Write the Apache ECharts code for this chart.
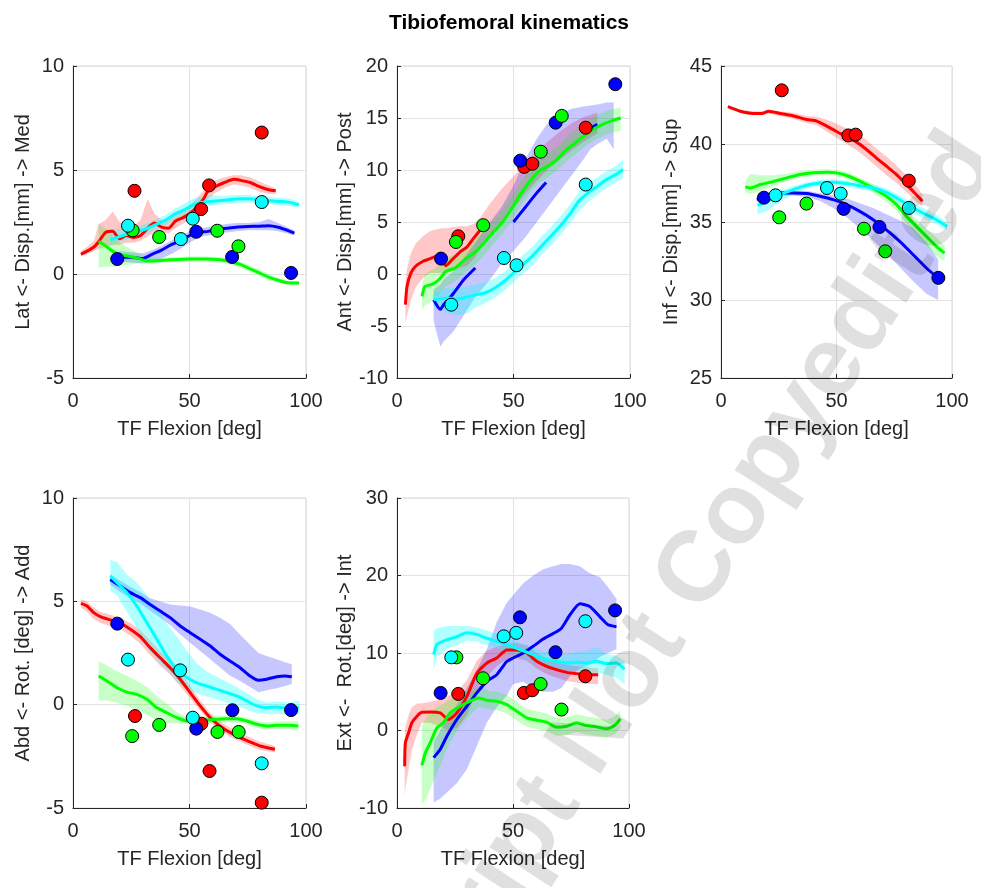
<!DOCTYPE html>
<html>
<head>
<meta charset="utf-8">
<script src="https://cdn.jsdelivr.net/npm/echarts@6/dist/echarts.min.js"></script>
<style>
  html, body { margin: 0; padding: 0; background: #fff; }
  #chart { width: 981px; height: 888px; }
</style>
</head>
<body>
<div id="chart"></div>
<script>
// rows are [flexion, mean, band low, band high]; null mean = line not visible there
var latRed = [[3.4,0.95,0.85,1.1],[6,1.1,0.95,1.3],[9,1.3,1.1,1.6],[11,1.55,1.2,2.4],[14,2.0,1.3,2.6],[17,2.05,1.4,3.0],[20,1.7,1.4,2.5],[23,1.85,1.5,2.4],[26,1.75,1.5,2.3],[29,1.85,1.6,2.6],[32,2.2,1.8,3.6],[35,2.45,2.0,2.9],[38,2.25,2.0,2.6],[41,2.2,1.95,2.6],[44,2.55,2.2,2.9],[47,2.7,2.4,3.0],[50,2.9,2.6,3.3],[53,3.2,2.8,3.6],[56,3.6,3.2,4.0],[58,4.0,3.6,4.3],[61,4.2,3.9,4.5],[65,4.4,4.15,4.65],[69,4.55,4.3,4.75],[72,4.5,4.25,4.75],[76,4.4,4.15,4.65],[80,4.2,3.95,4.45],[84,4.05,3.85,4.25],[87,4.0,3.85,4.1]];
var latCyan = [[16,1.65,1.4,2.2],[20,1.8,1.55,2.15],[24,1.95,1.7,2.2],[28,2.05,1.8,2.3],[32,2.2,1.95,2.45],[36,2.4,2.15,2.65],[40,2.6,2.35,2.85],[44,2.9,2.65,3.15],[48,3.1,2.85,3.4],[52,3.35,3.1,3.65],[56,3.45,3.2,3.75],[60,3.5,3.3,3.8],[65,3.55,3.35,3.75],[70,3.6,3.4,3.8],[75,3.62,3.45,3.8],[80,3.58,3.4,3.75],[85,3.52,3.35,3.7],[90,3.48,3.3,3.65],[94,3.42,3.25,3.6],[97,3.32,3.2,3.45]];
var latBlue = [[20,0.8,0.6,1.1],[25,0.8,0.55,1.05],[30,0.75,0.5,1.0],[34,0.95,0.6,1.15],[38,1.15,0.75,1.35],[42,1.4,0.95,1.6],[46,1.6,1.2,1.8],[50,1.85,1.5,2.05],[54,2.0,1.75,2.2],[58,2.05,1.85,2.25],[62,2.15,1.95,2.35],[66,2.2,2.0,2.4],[70,2.25,2.05,2.45],[75,2.28,2.1,2.45],[80,2.3,2.1,2.5],[84,2.32,2.1,2.65],[88,2.25,2.05,2.45],[92,2.1,1.95,2.25],[95,1.97,1.85,2.1]];
var latGreen = [[11,1.57,0.3,2.4],[14,1.35,0.35,2.2],[17,1.1,0.35,1.8],[20,0.93,0.4,1.5],[24,0.85,0.45,1.25],[28,0.75,0.5,1.0],[32,0.62,0.5,0.8],[36,0.64,0.52,0.78],[42,0.68,0.56,0.8],[50,0.72,0.6,0.84],[57,0.72,0.6,0.84],[63,0.68,0.55,0.82],[68,0.58,0.43,0.73],[72,0.45,0.3,0.6],[76,0.25,0.1,0.4],[80,0.05,-0.1,0.2],[84,-0.15,-0.3,0.0],[88,-0.3,-0.42,-0.18],[92,-0.42,-0.52,-0.32],[97,-0.43,-0.5,-0.35]];
var latRedPts = [[26.4,4.0],[55,3.12],[58.4,4.26],[81,6.8]];
var latBluePts = [[19,0.72],[52.9,2.03],[68.3,0.82],[93.6,0.05]];
var latGreenPts = [[25.6,2.1],[37,1.78],[61.9,2.08],[71,1.33]];
var latCyanPts = [[23.6,2.32],[46.3,1.68],[51.4,2.66],[81,3.46]];

var antRed = [[3.6,-2.95,-4.7,-1.0],[4.3,-1.2,-4.0,0.5],[6,0.1,-2.5,2.0],[8,0.74,-1.3,2.9],[11,1.2,-0.4,3.6],[14,1.45,0.1,4.1],[17,1.7,0.1,4.3],[19,1.4,0.1,4.4],[21,0.8,0.1,4.4],[24,1.45,0.3,4.5],[27,2.1,0.6,4.6],[30,2.6,0.8,4.6],[33,3.47,1.5,4.8],[36,4.3,2.5,5.5],[40,null,3.8,6.8],[45,null,5.0,8.2],[50,null,6.3,9.4],[55,null,7.7,10.7],[60,null,9.0,11.8],[65,null,10.1,12.8],[70,null,11.0,13.7],[75,null,11.9,14.5],[80,null,12.7,15.1],[86,null,13.5,15.5]];
var antBlue = [[15.7,-2.47,-4.5,-1.5],[18.6,-3.4,-7.0,-1.0],[20,-2.95,-6.5,-0.5],[24.3,-1.85,-5.5,0.3],[28.6,-0.55,-4.0,1.5],[33.6,0.58,-2.2,3.0],[40,null,-0.5,5.0],[45,null,1.0,6.5],[50,5.0,2.2,8.5],[55,6.4,3.5,11.0],[60,7.8,5.0,13.0],[64,8.8,6.2,14.3],[70,null,8.0,15.5],[75,null,9.5,15.9],[80,null,11.0,16.1],[83,14.0,12.0,16.2],[86,14.4,12.5,16.3],[90,null,13.0,16.5],[93,null,12.0,16.5]];
var antGreen = [[10.7,-2.15,-3.5,-1.0],[12,-1.2,-3.0,0.0],[15,-1.0,-2.6,0.4],[18,-0.55,-2.0,0.8],[21,0.26,-1.2,1.5],[25,0.58,-0.7,1.9],[29,1.38,0.1,2.6],[33,2.0,0.8,3.2],[37,2.9,1.7,4.1],[41,3.95,2.8,5.1],[45,4.9,3.8,6.1],[49,6.2,5.0,7.4],[53,7.65,6.5,8.8],[57,8.9,7.8,10.0],[61,9.9,8.8,11.0],[65,10.4,9.3,11.6],[69,11.1,10.0,12.3],[73,12.0,10.9,13.2],[77,12.7,11.6,13.9],[81,13.4,12.3,14.6],[85,14.0,12.9,15.2],[89,14.45,13.3,15.6],[93,14.8,13.6,15.9],[96,15.0,13.8,16.0]];
var antCyan = [[15.7,-2.47,-3.2,-1.8],[18,-2.4,-3.3,-1.6],[22,-2.3,-3.8,-1.3],[26,-2.4,-4.0,-1.4],[30,-2.2,-3.8,-1.2],[34,-2.0,-3.2,-1.0],[38,-1.8,-2.8,-0.8],[42,-1.35,-2.3,-0.4],[46,-0.7,-1.6,0.2],[50,0.1,-0.8,1.0],[54,0.9,0.0,1.8],[58,1.7,0.8,2.6],[62,2.67,1.8,3.6],[66,3.63,2.7,4.5],[70,4.6,3.7,5.5],[74,5.7,4.8,6.6],[78,7.0,6.0,7.9],[82,7.8,6.9,8.7],[86,8.45,7.6,9.3],[90,9.1,8.3,9.9],[94,9.57,8.8,10.4],[97,10.05,9.2,11.0]];
var antRedPts = [[26.3,3.63],[54.6,10.3],[58.1,10.6],[81,14.07]];
var antBluePts = [[18.9,1.48],[52.9,10.9],[68.1,14.55],[93.7,18.25]];
var antGreenPts = [[25.3,3.08],[37,4.69],[61.7,11.76],[70.7,15.2]];
var antCyanPts = [[23.3,-2.95],[45.9,1.54],[51.3,0.84],[81,8.6]];

var infRed = [[3,42.39,42.3,42.5],[8.3,42.1,42.0,42.2],[14,41.96,41.85,42.1],[17.7,41.96,41.85,42.1],[20.6,42.1,41.95,42.2],[25.6,41.96,41.8,42.1],[31.4,41.8,41.6,42.0],[37,41.57,41.35,41.8],[41.4,41.47,41.2,41.75],[45.8,41.15,40.8,41.55],[50,40.8,40.4,41.3],[54.4,40.46,40.0,41.0],[58.7,40.12,39.6,40.7],[63,39.65,39.1,40.25],[67.3,39.1,38.55,39.7],[71.6,38.58,38.0,39.2],[76,38.04,37.5,38.6],[80.3,37.4,36.9,38.0],[83.9,36.86,36.4,37.4],[87.2,36.33,36.0,36.8]];
var infBlue = [[15.5,36.43,36.3,36.6],[19.9,36.65,36.5,36.8],[25.6,36.86,36.7,37.0],[31.4,36.86,36.7,37.0],[37.1,36.82,36.6,37.0],[42.9,36.65,36.35,36.85],[48.6,36.43,35.9,36.7],[54.4,36.11,35.3,36.5],[60.1,35.68,34.6,36.2],[65.9,35.15,33.8,35.9],[71.6,34.5,33.0,35.5],[77.4,33.76,32.1,35.1],[83.2,32.9,31.2,34.6],[88.9,32.05,30.4,33.7],[94,31.4,30.0,32.6]];
var infGreen = [[10.5,37.25,36.9,37.6],[12.7,37.18,36.8,38.1],[17,37.4,37.0,38.0],[22.7,37.6,37.3,38.0],[28.5,37.83,37.6,38.1],[34.2,38.04,37.85,38.3],[40,38.15,37.95,38.35],[45.8,38.19,38.0,38.4],[50,38.15,37.95,38.35],[54.4,37.98,37.75,38.2],[58.7,37.72,37.5,37.95],[63,37.4,37.15,37.65],[67.3,37.03,36.75,37.3],[71.6,36.65,36.3,36.95],[76,36.11,35.7,36.45],[80.3,35.36,34.9,35.8],[84.6,34.72,34.2,35.2],[88.9,34.08,33.5,34.6],[93.2,33.44,32.8,34.0],[96.8,33.0,32.5,33.5]];
var infCyan = [[15.8,36.07,35.5,36.4],[19.9,36.33,35.7,36.6],[25.6,36.76,36.3,37.0],[31.4,37.08,36.8,37.3],[37.1,37.36,37.15,37.55],[42.9,37.5,37.3,37.7],[48.6,37.55,37.35,37.75],[54.4,37.46,37.25,37.65],[60.1,37.33,37.1,37.55],[65.9,37.18,36.95,37.4],[71.6,36.9,36.65,37.15],[77.4,36.43,36.15,36.7],[83.2,35.9,35.6,36.2],[88.9,35.47,35.15,35.8],[93.2,35.15,34.85,35.45],[97.8,34.72,34.5,35.0]];
var infRedPts = [[26.3,43.44],[55.1,40.55],[58.3,40.6],[81.3,37.65]];
var infBluePts = [[18.6,36.56],[53.1,35.84],[68.6,34.68],[94.1,31.42]];
var infGreenPts = [[25.2,35.3],[37,36.18],[61.9,34.57],[71.1,33.12]];
var infCyanPts = [[23.6,36.71],[45.9,37.18],[51.8,36.82],[81.3,35.9]];

var abdRed = [[3.4,4.9,4.7,5.1],[6,4.77,4.5,5.0],[8.9,4.45,4.15,4.7],[11.7,4.26,3.95,4.5],[16,4.1,3.8,4.35],[20.3,3.94,3.65,4.2],[24.6,3.65,3.35,3.95],[28.9,3.29,2.95,3.6],[33.1,2.76,2.4,3.1],[37.4,2.27,1.9,2.6],[41.7,1.79,1.45,2.15],[46,1.23,0.9,1.6],[50.3,0.58,0.3,0.9],[54.6,-0.06,-0.3,0.2],[58.9,-0.63,-0.85,-0.4],[63.1,-1.03,-1.25,-0.8],[67.4,-1.35,-1.55,-1.12],[71.7,-1.6,-1.8,-1.38],[76,-1.8,-2.0,-1.58],[80.3,-2.0,-2.2,-1.8],[86.7,-2.16,-2.3,-2.0]];
var abdBlue = [[16,6.06,5.8,6.3],[20.3,5.74,5.45,6.0],[24.6,5.42,5.15,5.7],[28.9,5.18,4.9,5.45],[33.1,4.85,4.55,5.15],[37.4,4.53,4.2,5.0],[41.7,4.21,3.85,4.85],[46,3.81,3.4,4.8],[50.3,3.48,3.0,4.75],[54.6,3.16,2.6,4.6],[58.9,2.84,2.2,4.45],[63.1,2.44,1.8,4.2],[67.4,2.11,1.4,3.9],[71.7,1.79,1.15,3.4],[76,1.39,0.85,2.9],[79.6,1.18,0.6,2.5],[83.1,1.23,0.7,2.35],[87.4,1.35,0.8,2.2],[91,1.39,0.9,2.05],[93.9,1.35,1.0,1.95]];
var abdGreen = [[11,1.39,0.2,2.1],[14.6,1.15,0.2,1.9],[18.9,0.82,0.1,1.6],[23.1,0.61,-0.05,1.4],[27.4,0.5,-0.25,1.15],[31.7,0.26,-0.5,0.85],[36,-0.15,-0.75,0.4],[40.3,-0.39,-0.9,0.05],[44.6,-0.63,-0.9,-0.35],[48.9,-0.79,-0.95,-0.62],[53.1,-0.79,-0.95,-0.63],[57.4,-0.74,-0.9,-0.58],[61.7,-0.71,-0.87,-0.55],[66,-0.68,-0.85,-0.52],[70.3,-0.68,-0.85,-0.52],[74.6,-0.79,-0.95,-0.63],[78.9,-0.95,-1.12,-0.78],[83.1,-1.03,-1.2,-0.86],[87.4,-1.0,-1.18,-0.82],[93.1,-1.0,-1.2,-0.8],[96.7,-1.03,-1.3,-0.8]];
var abdCyan = [[16,6.23,5.5,7.0],[18.9,5.9,5.3,6.9],[23.1,5.42,4.5,6.3],[27.4,4.77,3.7,5.9],[31.7,3.97,2.8,5.3],[36,3.16,2.2,4.7],[40.3,2.35,1.7,3.9],[44.6,1.71,1.1,3.3],[48.9,1.31,0.75,2.6],[53.1,1.06,0.55,2.0],[57.4,0.9,0.4,1.6],[61.7,0.74,0.25,1.35],[66,0.58,0.1,1.1],[70.3,0.42,-0.05,0.85],[74.6,0.18,-0.25,0.55],[78.9,-0.06,-0.4,0.25],[83.1,-0.15,-0.45,0.1],[87.4,-0.11,-0.45,0.15],[93.1,-0.19,-0.5,0.1],[97.1,-0.15,-0.45,0.2]];
var abdRedPts = [[26.6,-0.55],[55.1,-0.92],[58.6,-3.21],[81,-4.74]];
var abdBluePts = [[19,3.92],[52.9,-1.16],[68.4,-0.27],[93.6,-0.26]];
var abdGreenPts = [[25.4,-1.52],[37,-0.98],[62,-1.32],[71.1,-1.32]];
var abdCyanPts = [[23.6,2.18],[46,1.66],[51.4,-0.63],[81,-2.84]];

var extRed = [[3.3,-4.6,-8.5,-1.0],[3.6,-1.6,-7.5,0.5],[5,-0.3,-5.0,2.0],[6.4,1.0,-2.5,3.0],[8.6,1.85,-0.5,3.5],[10.7,2.36,1.0,3.5],[14.3,2.4,1.0,3.7],[18.6,2.27,0.5,4.0],[22.2,1.42,0.0,4.5],[25.8,2.27,0.3,5.0],[30.1,4.4,2.0,6.5],[34.4,7.4,5.0,9.0],[38.7,8.7,7.0,10.3],[43,9.36,8.3,10.8],[47.3,10.4,9.2,11.2],[51.6,10.4,9.3,11.3],[55.9,10.0,9.0,11.0],[60.2,8.93,8.0,10.0],[64.5,8.28,7.3,9.3],[68.8,7.85,6.8,8.8],[73.1,7.5,6.4,8.5],[77.4,7.34,6.2,8.3],[81.7,7.2,6.0,8.2],[86.7,7.2,6.0,8.0]];
var extBlue = [[15.8,-3.5,-9.3,-1.5],[18.6,-2.45,-8.8,0.0],[21.5,-0.73,-8.0,1.5],[25.8,1.42,-6.8,3.3],[30.1,3.13,-5.0,5.5],[34.4,4.85,-2.0,7.8],[38.7,6.35,1.0,10.5],[43,7.2,3.0,14.0],[47.3,8.9,4.5,16.5],[50.1,9.36,6.0,17.5],[54.4,10.0,6.3,19.0],[58.7,10.86,5.5,20.0],[63,11.8,5.0,20.8],[67.3,12.5,5.0,21.2],[70.9,13.2,5.5,21.5],[74.5,14.9,7.0,21.5],[78.8,16.35,8.0,21.2],[83.1,16.0,8.5,20.3],[87.4,14.7,9.5,19.8],[91,13.65,10.0,18.5],[94.6,13.4,10.5,17.0]];
var extGreen = [[10.7,-4.5,-9.5,0.5],[12.2,-2.9,-9.0,1.5],[14.3,-1.6,-7.5,2.5],[17.2,0.34,-5.5,3.0],[20,0.99,-3.5,3.5],[22.9,2.27,-1.5,4.0],[27.2,3.13,0.5,4.8],[31.5,3.78,2.0,5.3],[35.1,4.2,3.0,5.6],[38.7,3.9,2.8,5.2],[43,3.78,2.6,5.0],[47.3,3.35,2.2,4.6],[51.6,2.49,1.3,3.7],[55.9,1.63,0.5,2.8],[60.2,1.33,0.2,2.5],[64.5,1.07,-0.1,2.2],[68.8,0.43,-0.7,1.6],[73.1,0.56,-0.6,1.7],[77.4,0.99,-0.2,2.1],[81.7,0.64,-0.5,1.8],[86,0.47,-0.7,1.6],[90.3,0.21,-0.9,1.4],[93.8,0.64,-0.5,1.8],[96.3,1.5,0.3,2.6]];
var extCyan = [[15.8,9.8,7.9,12.9],[17.2,11.1,9.5,13.2],[21.5,11.7,10.5,13.5],[25.8,12.1,11.0,13.5],[30.1,12.6,11.6,13.5],[34.4,12.4,11.5,13.3],[38.7,11.9,11.0,12.9],[43,11.5,10.6,12.5],[47.3,11.1,10.2,12.0],[51.6,10.6,9.8,11.5],[55.9,10.1,9.2,11.0],[60.2,9.6,8.6,10.5],[64.5,9.14,8.2,10.1],[68.8,8.93,8.0,9.9],[73.1,8.7,7.8,9.8],[77.4,8.8,7.7,10.2],[81.7,8.7,7.5,10.3],[86,8.93,7.5,10.8],[90.3,8.63,7.2,9.9],[94.6,8.7,6.8,9.6],[98.1,7.9,6.0,9.0]];
var extRedPts = [[26.4,4.72],[54.7,4.85],[58.3,5.19],[81.2,7.0]];
var extBluePts = [[18.8,4.85],[53,14.6],[68.3,10.1],[94,15.5]];
var extGreenPts = [[25.6,9.44],[37.1,6.74],[61.9,6.0],[70.9,2.7]];
var extCyanPts = [[23.4,9.44],[46,12.15],[51.4,12.6],[81.2,14.1]];

var xTicks = [0, 50, 100];
var yLabels = ['Lat <- Disp.[mm] -> Med', 'Ant <- Disp.[mm] -> Post', 'Inf <- Disp.[mm] -> Sup',
    'Abd <- Rot. [deg] -> Add', 'Ext <-  Rot.[deg] -> Int'];
var yRanges = [[-5, 10, 5], [-10, 20, 5], [25, 45, 5], [-5, 10, 5], [-10, 30, 10]];

var RED = '#ff0000', BLUE = '#0000ff', GREEN = '#00ff00', CYAN = '#00ffff';
var FONT = 'Liberation Sans, Arial, sans-serif';
var TXT = '#262626';

var panels = [
    [[latRed, RED], [latBlue, BLUE], [latGreen, GREEN], [latCyan, CYAN]],
    [[antRed, RED], [antBlue, BLUE], [antGreen, GREEN], [antCyan, CYAN]],
    [[infRed, RED], [infBlue, BLUE], [infGreen, GREEN], [infCyan, CYAN]],
    [[abdRed, RED], [abdBlue, BLUE], [abdGreen, GREEN], [abdCyan, CYAN]],
    [[extRed, RED], [extBlue, BLUE], [extGreen, GREEN], [extCyan, CYAN]]
];
var panelPts = [
    [[latRedPts, RED], [latBluePts, BLUE], [latGreenPts, GREEN], [latCyanPts, CYAN]],
    [[antRedPts, RED], [antBluePts, BLUE], [antGreenPts, GREEN], [antCyanPts, CYAN]],
    [[infRedPts, RED], [infBluePts, BLUE], [infGreenPts, GREEN], [infCyanPts, CYAN]],
    [[abdRedPts, RED], [abdBluePts, BLUE], [abdGreenPts, GREEN], [abdCyanPts, CYAN]],
    [[extRedPts, RED], [extBluePts, BLUE], [extGreenPts, GREEN], [extCyanPts, CYAN]]
];

var grids = [
    {left: 73, top: 66, width: 233, height: 312},
    {left: 397, top: 66, width: 233, height: 312},
    {left: 721, top: 66, width: 231, height: 312},
    {left: 73, top: 498, width: 233, height: 310},
    {left: 397, top: 498, width: 232, height: 310}
];

function bandSeries(rows, color, gi) {
    return {
        type: 'custom',
        xAxisIndex: gi, yAxisIndex: gi,
        silent: true,
        data: rows.map(function (r) { return [r[0], r[2], r[3]]; }),
        encode: {x: 0, y: [1, 2]},
        renderItem: function (params, api) {
            if (params.dataIndex !== 0) return null;
            var pts = [];
            rows.forEach(function (r) { pts.push(api.coord([r[0], r[3]])); });
            rows.slice().reverse().forEach(function (r) { pts.push(api.coord([r[0], r[2]])); });
            return {
                type: 'polygon',
                shape: {points: pts},
                style: {fill: color, opacity: color === CYAN ? 0.3 : 0.22, stroke: null}
            };
        }
    };
}

var xAxes = [], yAxes = [], series = [];
grids.forEach(function (g, i) {
    g.show = true;
    g.borderColor = '#d9d9d9';
    g.borderWidth = 1;
    xAxes.push({
        gridIndex: i, type: 'value', min: xTicks[0], max: xTicks[2], interval: xTicks[1] - xTicks[0],
        axisLine: {show: true, onZero: false, lineStyle: {color: TXT, width: 1}},
        axisTick: {show: true, inside: true, length: 4, lineStyle: {color: TXT}},
        axisLabel: {color: TXT, fontSize: 20, fontFamily: FONT, margin: 13},
        splitLine: {show: true, lineStyle: {color: '#e3e3e3'}},
        name: 'TF Flexion [deg]', nameLocation: 'middle', nameGap: 41,
        nameTextStyle: {color: TXT, fontSize: 20, fontFamily: FONT}
    });
    var yr = yRanges[i];
    yAxes.push({
        gridIndex: i, type: 'value', min: yr[0], max: yr[1], interval: yr[2],
        axisLine: {show: true, onZero: false, lineStyle: {color: TXT, width: 1}},
        axisTick: {show: true, inside: true, length: 4, lineStyle: {color: TXT}},
        axisLabel: {color: TXT, fontSize: 20, fontFamily: FONT, margin: 9},
        splitLine: {show: true, lineStyle: {color: '#e3e3e3'}},
        name: yLabels[i], nameLocation: 'middle', nameGap: 40,
        nameTextStyle: {color: TXT, fontSize: 20, fontFamily: FONT}
    });
    panels[i].forEach(function (p) {
        series.push(bandSeries(p[0], p[1], i));
        series.push({
            type: 'line', xAxisIndex: i, yAxisIndex: i,
            data: p[0].map(function (r) { return [r[0], r[1]]; }),
            showSymbol: false, smooth: 0.2, silent: true, connectNulls: false,
            lineStyle: {color: p[1], width: 3}
        });
    });
    panelPts[i].forEach(function (p) {
        series.push({
            type: 'scatter', xAxisIndex: i, yAxisIndex: i, z: 4,
            data: p[0], symbolSize: 13, silent: true,
            itemStyle: {color: p[1], borderColor: '#000', borderWidth: 1, opacity: 1}
        });
    });
});

var myChart = echarts.init(document.getElementById('chart'));
myChart.setOption({
    animation: false,
    backgroundColor: '#fff',
    grid: grids,
    xAxis: xAxes,
    yAxis: yAxes,
    series: series,
    graphic: [
        {
            type: 'text', x: 509, y: 23, z: 50,
            style: {text: 'Tibiofemoral kinematics', font: 'bold 21px ' + FONT, fill: '#000',
                align: 'center', verticalAlign: 'middle', textAlign: 'center', textVerticalAlign: 'middle'}
        },
        {
            type: 'text', x: 690, y: 585, z: 100, silent: true,
            rotation: 57 * Math.PI / 180,
            style: {text: 'Script Not Copyedited', font: 'bold 100px ' + FONT, fill: 'rgba(0,0,0,0.12)',
                align: 'center', verticalAlign: 'middle', textAlign: 'center', textVerticalAlign: 'middle'}
        }
    ]
});
</script>
</body>
</html>
